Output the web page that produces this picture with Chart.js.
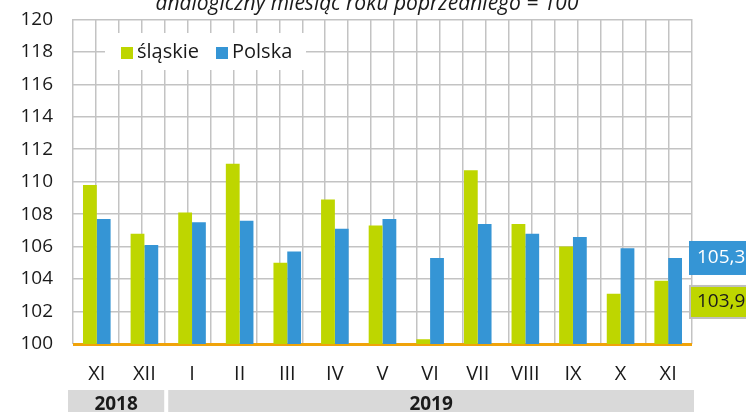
<!DOCTYPE html>
<html lang="pl">
<head>
  <meta charset="UTF-8">
  <title>Dynamika</title>
  <script src="https://cdn.jsdelivr.net/npm/chart.js"></script>
  <style>
    body {
      margin: 0;
      background: #fff;
    }

    .chart-box {
      position: relative;
      width: 746px;
      height: 412px;
    }
  </style>
</head>
<body>
  <div class="chart-box">
    <canvas id="chart"></canvas>
  </div>

  <script>
    const months = ['XI', 'XII', 'I', 'II', 'III', 'IV', 'V', 'VI', 'VII', 'VIII', 'IX', 'X', 'XI'];
    const slaskie = [109.8, 106.8, 108.1, 111.1, 105.0, 108.9, 107.3, 100.3, 110.7, 107.4, 106.0, 103.1, 103.9];
    const polska = [107.7, 106.1, 107.5, 107.6, 105.7, 107.1, 107.7, 105.3, 107.4, 106.8, 106.6, 105.9, 105.3];
    const years = ['2018', '2019'];
    const yearMonths = [2, 11];
    const subtitle = 'analogiczny miesiąc roku poprzedniego = 100';

    const GREEN = '#bed600';
    const BLUE = '#3595d5';
    const GRID = '#c3c3c3';
    const TEXT = '#1a1a1a';
    const FONT = "'Open Sans', sans-serif";

    const fmt = v => v.toFixed(1).replace('.', ',');

    // subtitle, legend, last-value boxes, year band
    const extras = {
      id: 'extras',
      afterDatasetsDraw(chart) {
        const { ctx, chartArea, scales } = chart;
        const x = scales.x;
        const y = scales.y;
        ctx.save();

        // subtitle (clipped at top, as in original)
        ctx.font = 'italic 21px ' + FONT;
        ctx.fillStyle = TEXT;
        ctx.textAlign = 'center';
        ctx.textBaseline = 'alphabetic';
        ctx.fillText(subtitle, 367, 10);

        // legend inside plot
        ctx.fillStyle = '#fff';
        ctx.fillRect(chartArea.left + 32, 33, 201, 37);
        ctx.font = '20px ' + FONT;
        ctx.textAlign = 'left';
        ctx.textBaseline = 'middle';
        let lx = chartArea.left + 48;
        chart.data.datasets.forEach(ds => {
          ctx.fillStyle = ds.backgroundColor;
          ctx.fillRect(lx, 47, 12, 12);
          ctx.fillStyle = TEXT;
          ctx.fillText(ds.label, lx + 16, 52);
          lx += 16 + ctx.measureText(ds.label).width + 17;
        });

        // last value boxes
        const last = months.length - 1;
        const bx = chartArea.right - 3;
        const bw = 746 - bx;
        const yBlue = y.getPixelForValue(polska[last]);
        ctx.fillStyle = BLUE;
        ctx.fillRect(bx, yBlue - 17, bw, 34);
        ctx.fillStyle = '#fff';
        ctx.font = '19px ' + FONT;
        ctx.fillText(fmt(polska[last]), bx + 8, yBlue);

        const gTop = yBlue + 27;
        ctx.fillStyle = GREEN;
        ctx.fillRect(bx, gTop, bw, 34);
        ctx.strokeStyle = '#bfbfbf';
        ctx.lineWidth = 2;
        ctx.strokeRect(bx + 1, gTop + 1, bw, 32);
        ctx.fillStyle = TEXT;
        ctx.fillText(fmt(slaskie[last]), bx + 8, gTop + 17);

        // year band
        let start = 0;
        ctx.font = 'bold 19px ' + FONT;
        ctx.textAlign = 'center';
        ctx.textBaseline = 'alphabetic';
        years.forEach((yr, i) => {
          const end = start + yearMonths[i];
          const half = (x.getPixelForValue(1) - x.getPixelForValue(0)) / 2;
          const x0 = x.getPixelForValue(start) - half + (i === 0 ? -5 : 0);
          const x1 = x.getPixelForValue(end - 1) + half + (i === years.length - 1 ? 2 : -4);
          ctx.fillStyle = '#d9d9d9';
          ctx.fillRect(x0, 390, x1 - x0, 22);
          ctx.fillStyle = TEXT;
          ctx.fillText(yr, (x0 + x1) / 2, 410);
          start = end;
        });

        ctx.restore();
      }
    };

    window.onload = () => {
      new Chart(document.getElementById('chart').getContext('2d'), {
        type: 'bar',
        data: {
          labels: months,
          datasets: [
            { label: 'śląskie', data: slaskie, backgroundColor: GREEN },
            { label: 'Polska', data: polska, backgroundColor: BLUE }
          ]
        },
        options: {
          responsive: true,
          maintainAspectRatio: false,
          animation: false,
          categoryPercentage: 0.58,
          barPercentage: 1.0,
          layout: {
            padding: { left: 12.4, right: 54, top: 0, bottom: 8 }
          },
          plugins: {
            legend: { display: false },
            tooltip: { enabled: false }
          },
          scales: {
            x: {
              grid: { display: false, drawTicks: false },
              border: { display: false },
              ticks: {
                color: TEXT,
                font: { family: FONT, size: 20 },
                padding: 18,
                maxRotation: 0,
                autoSkip: false
              }
            },
            x2: {
              type: 'linear',
              position: 'top',
              min: 0,
              max: months.length,
              grid: { color: GRID, lineWidth: 1.5, drawTicks: false },
              border: { display: false },
              ticks: { display: false, stepSize: 0.5 }
            },
            y: {
              min: 100,
              max: 120,
              grid: {
                drawTicks: true,
                tickLength: 12,
                tickColor: 'transparent',
                color: c => c.tick.value === 100 ? '#f0a30a' : GRID,
                lineWidth: c => c.tick.value === 100 ? 3 : 1.5
              },
              border: { display: false },
              ticks: {
                stepSize: 2,
                color: TEXT,
                font: { family: FONT, size: 19 },
                padding: 8
              }
            }
          }
        },
        plugins: [extras]
      });
    };
  </script>
</body>
</html>
